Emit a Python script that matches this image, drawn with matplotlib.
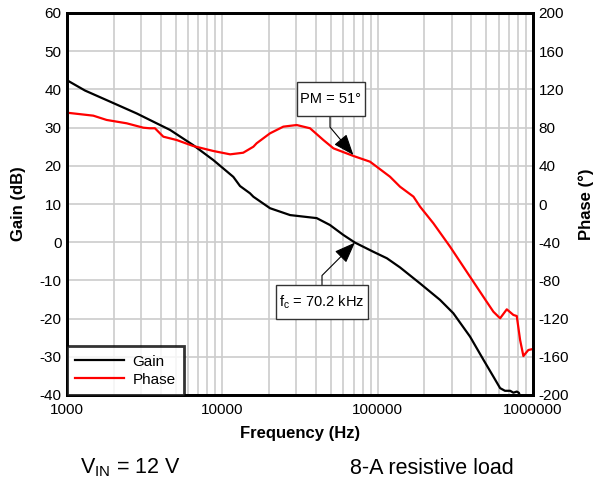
import matplotlib.pyplot as plt
from matplotlib.patches import Rectangle
from matplotlib.ticker import FixedLocator, NullFormatter, LogLocator

plt.rcParams['font.family'] = ['Liberation Sans', 'DejaVu Sans']
plt.rcParams['axes.unicode_minus'] = False

# gain curve
gain_freq = [1000, 1306, 1893, 2812, 3785, 4604, 6500, 8750, 11770, 13000, 15070,
             15850, 20270, 27300, 40530, 49300, 60100, 71400, 93700, 114600,
             139300, 187500, 252000, 307000, 393000, 480000, 556000, 614000,
             660000, 713000, 748000, 786000, 810000, 840000]
gain_db = [42.4, 39.7, 36.8, 33.7, 31.1, 29.4, 25.4, 21.5, 17.1, 14.7, 12.8,
           11.9, 8.9, 7.1, 6.3, 4.5, 1.9, -0.1, -2.5, -4.2,
           -6.6, -10.8, -15.1, -18.6, -24.7, -30.8, -35.2, -38.2,
           -38.9, -38.9, -39.4, -39.1, -39.4, -41.0]

# phase curve
phase_freq = [1000, 1477, 1800, 2422, 3100, 3400, 3682, 3967, 4170, 5080, 6500,
              8750, 11230, 13630, 15850, 16630, 20270, 24700, 30100, 36700,
              44700, 51900, 69800, 89300, 120000, 139300, 170000, 187500, 228400,
              292500, 393000, 503000, 556000, 614000, 678000, 748000, 786000,
              826000, 867000, 933000, 1000000]
phase_deg = [95.6, 92.5, 88, 84.5, 79.9, 79.3, 79.3, 74, 70.5, 67, 60.7,
             55.5, 52, 53.7, 60, 63.6, 74, 81, 82.7, 79.3,
             67, 58.3, 50.3, 44.3, 28.6, 18.1, 7.7, -2.8, -20.2,
             -44.7, -76.1, -102.3, -112.8, -119.7, -110.3, -116.2, -117.3,
             -142.4, -159.2, -152.9, -151.8]

x_ticks = [1000, 10000, 100000, 1000000]
gain_ticks = list(range(-40, 61, 10))
phase_ticks = list(range(-200, 201, 40))

fig = plt.figure(figsize=(5.98, 4.82), dpi=100)
ax = fig.add_axes([67 / 598, 1 - 395 / 482, 466 / 598, 382 / 482])
ax2 = ax.twinx()

ax.set_xscale('log')
ax.set_xlim(1000, 1000000)
ax.set_ylim(-40, 60)
ax2.set_ylim(-200, 200)

ax.xaxis.set_major_locator(FixedLocator(x_ticks))
ax.set_xticklabels([str(t) for t in x_ticks])
ax.xaxis.set_minor_locator(LogLocator(base=10, subs=range(2, 10)))
ax.xaxis.set_minor_formatter(NullFormatter())
ax.set_yticks(gain_ticks)
ax2.set_yticks(phase_ticks)

ax.grid(True, which='both', axis='x', color='#cccccc', lw=1.2)
ax.grid(True, which='major', axis='y', color='#cccccc', lw=1.2)
ax.set_axisbelow(True)

ax.tick_params(which='both', length=0, labelsize=11, pad=4)
ax.tick_params(axis='x', pad=6)
ax2.tick_params(which='both', length=0, labelsize=11, pad=4)

for a in (ax, ax2):
    for s in a.spines.values():
        s.set_linewidth(2)

l1, = ax.plot(gain_freq, gain_db, color='black', lw=1.6, label='Gain')
l2, = ax2.plot(phase_freq, phase_deg, color='red', lw=1.6, label='Phase')

ax.set_xlabel('Frequency (Hz)', fontsize=12, fontweight='bold', labelpad=6)
ax.set_ylabel('Gain (dB)', fontsize=12, fontweight='bold', labelpad=10)
ax2.set_ylabel('Phase (°)', fontsize=12, fontweight='bold', labelpad=7)

leg = ax2.legend([l1, l2], ['Gain', 'Phase'], loc='lower left', fontsize=11,
                 frameon=True, fancybox=False, borderaxespad=0, handlelength=3.2,
                 borderpad=0.55, labelspacing=0.25, handletextpad=0.55)
leg.get_frame().set_edgecolor('black')
leg.get_frame().set_linewidth(2)

# annotation boxes, in figure pixels (x0, y0, w, h)
pm_box = (297, 366, 68, 34)
fc_box = (276, 163, 92, 34)
for bx in (pm_box, fc_box):
    fig.add_artist(Rectangle(bx[:2], bx[2], bx[3], transform=None, fc='white',
                             ec='#333333', lw=1, zorder=5))

fig.text(331 / 598, 383 / 482, 'PM = 51°', fontsize=10.5, ha='center', va='center',
         zorder=6)
fig.text(322 / 598, 180 / 482, 'f$_\\mathregular{c}$ = 70.2 kHz', fontsize=10.5,
         ha='center', va='center', zorder=6)

head = '-|>,head_length=0.65,head_width=0.25'
ax2.annotate('', xy=(69800, 51.3), xytext=(330, 366), textcoords='figure pixels',
             arrowprops=dict(arrowstyle=head, color='black', lw=0.8, mutation_scale=20,
                             connectionstyle='angle,angleA=90,angleB=-50,rad=0',
                             shrinkA=0, shrinkB=0))
ax.annotate('', xy=(71400, -0.1), xytext=(322, 197), textcoords='figure pixels',
            arrowprops=dict(arrowstyle=head, color='black', lw=0.8, mutation_scale=20,
                            connectionstyle='angle,angleA=90,angleB=45,rad=0',
                            shrinkA=0, shrinkB=0))

fig.text(80 / 598, 1 - 468 / 482, 'V$_\\mathregular{IN}$ = 12 V', fontsize=15.5, va='center')
fig.text(350 / 598, 1 - 468 / 482, '8-A resistive load', fontsize=15.5, va='center')

fig.savefig('out.png', dpi=100)
